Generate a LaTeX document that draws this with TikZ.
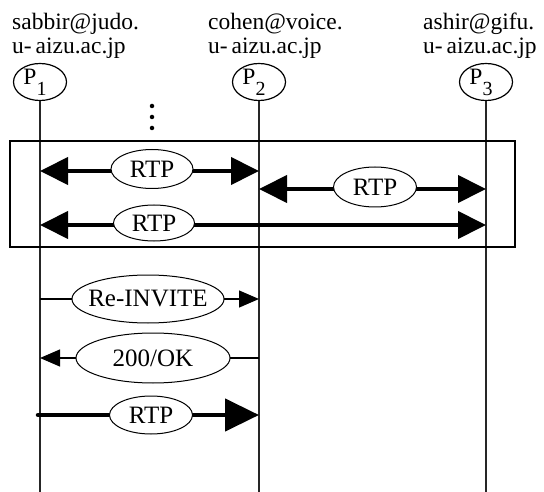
\documentclass[tikz,border=0pt]{standalone}
\usepackage{fontspec}
\setmainfont{Liberation Serif}
\usetikzlibrary{arrows.meta,shapes.geometric}
\newcommand\mylbl{\fontsize{23.5}{24}\selectfont}
\newcommand\mymsg{\fontsize{25}{26}\selectfont}
\newcommand\mysub{\fontsize{20}{20}\selectfont}
\begin{document}
\begin{tikzpicture}[x=1pt,y=-1pt,
  addr/.style={inner sep=0pt,align=left,anchor=north west,font=\mylbl},
  party/.style={draw,ellipse,line width=1.2pt,minimum width=53pt,minimum height=37pt,inner sep=0pt},
  plabel/.style={xshift=-5pt,yshift=5pt,font=\mylbl},
  lifeline/.style={line width=1.4pt,draw=black!85},
  msg/.style={draw,ellipse,fill=white,line width=1pt,inner sep=0pt,font=\mymsg},
  thickboth/.style={line width=4pt,{Triangle[length=28pt,width=27pt]}-{Triangle[length=28pt,width=27pt]}},
  bigarr/.style={line width=4.5pt,line cap=round,-{Triangle[length=34pt,width=32pt]}},
  thinarr/.style={line width=1.2pt,-{Triangle[length=20pt,width=17pt]}},
  dotmark/.style={circle,fill=black,inner sep=0pt,minimum size=4.5pt}]
\useasboundingbox (0,0) rectangle (544,492);
% addresses
\node[addr] (a1) at (12,13) {sabbir@judo.\\u-\,aizu.ac.jp};
\node[addr] (a2) at (208,13) {cohen@voice.\\u-\,aizu.ac.jp};
\node[addr] (a3) at (423,13) {ashir@gifu.\\u-\,aizu.ac.jp};
% parties
\node[party,label={[plabel]center:P\smash{\raisebox{-11pt}{\mysub 1}}}] (p1) at (40,82) {};
\node[party,label={[plabel]center:P\smash{\raisebox{-11pt}{\mysub 2}}}] (p2) at (259,82) {};
\node[party,label={[plabel]center:P\smash{\raisebox{-11pt}{\mysub 3}}}] (p3) at (486,82) {};
% lifelines
\coordinate (e1) at (40,492);
\coordinate (e2) at (259,492);
\coordinate (e3) at (486,492);
\draw[lifeline] (p1.south) -- (e1);
\draw[lifeline] (p2.south) -- (e2);
\draw[lifeline] (p3.south) -- (e3);
% dots
\node[dotmark] (d1) at (152,106) {};
\node[dotmark] (d2) at (152,117) {};
\node[dotmark] (d3) at (152,128) {};
% box
\node[draw,line width=1.8pt,inner sep=0pt,minimum width=505pt,minimum height=106pt] (box) at (262.25,194) {};
% message endpoints
\coordinate (r1a) at (40,171);  \coordinate (r1b) at (259,171);
\coordinate (r2a) at (259,189); \coordinate (r2b) at (486,189);
\coordinate (r3a) at (40,225);  \coordinate (r3b) at (486,225);
\coordinate (m1a) at (40,299);  \coordinate (m1b) at (259,299);
\coordinate (m2a) at (259,358); \coordinate (m2b) at (40,358);
\coordinate (m3a) at (38,415);  \coordinate (m3b) at (259,415);
\draw[thickboth] (r1a) -- (r1b);
\draw[thickboth] (r2a) -- (r2b);
\draw[thickboth] (r3a) -- (r3b);
\draw[thinarr] (m1a) -- (m1b);
\draw[thinarr] (m2a) -- (m2b);
\draw[bigarr] (m3a) -- (m3b);
% labels
\node[msg,minimum width=82pt,minimum height=39pt] (l1) at (152,169) {RTP};
\node[msg,minimum width=83pt,minimum height=40pt] (l2) at (375,187) {RTP};
\node[msg,minimum width=81pt,minimum height=36pt] (l3) at (154,223) {RTP};
\node[msg,inner xsep=-6pt,minimum width=152pt,minimum height=48pt] (l4) at (148,299) {Re-INVITE};
\node[msg,minimum width=154pt,minimum height=50pt] (l5) at (153,358) {200/OK};
\node[msg,minimum width=83pt,minimum height=38pt] (l6) at (151,415) {RTP};
\end{tikzpicture}
\end{document}
